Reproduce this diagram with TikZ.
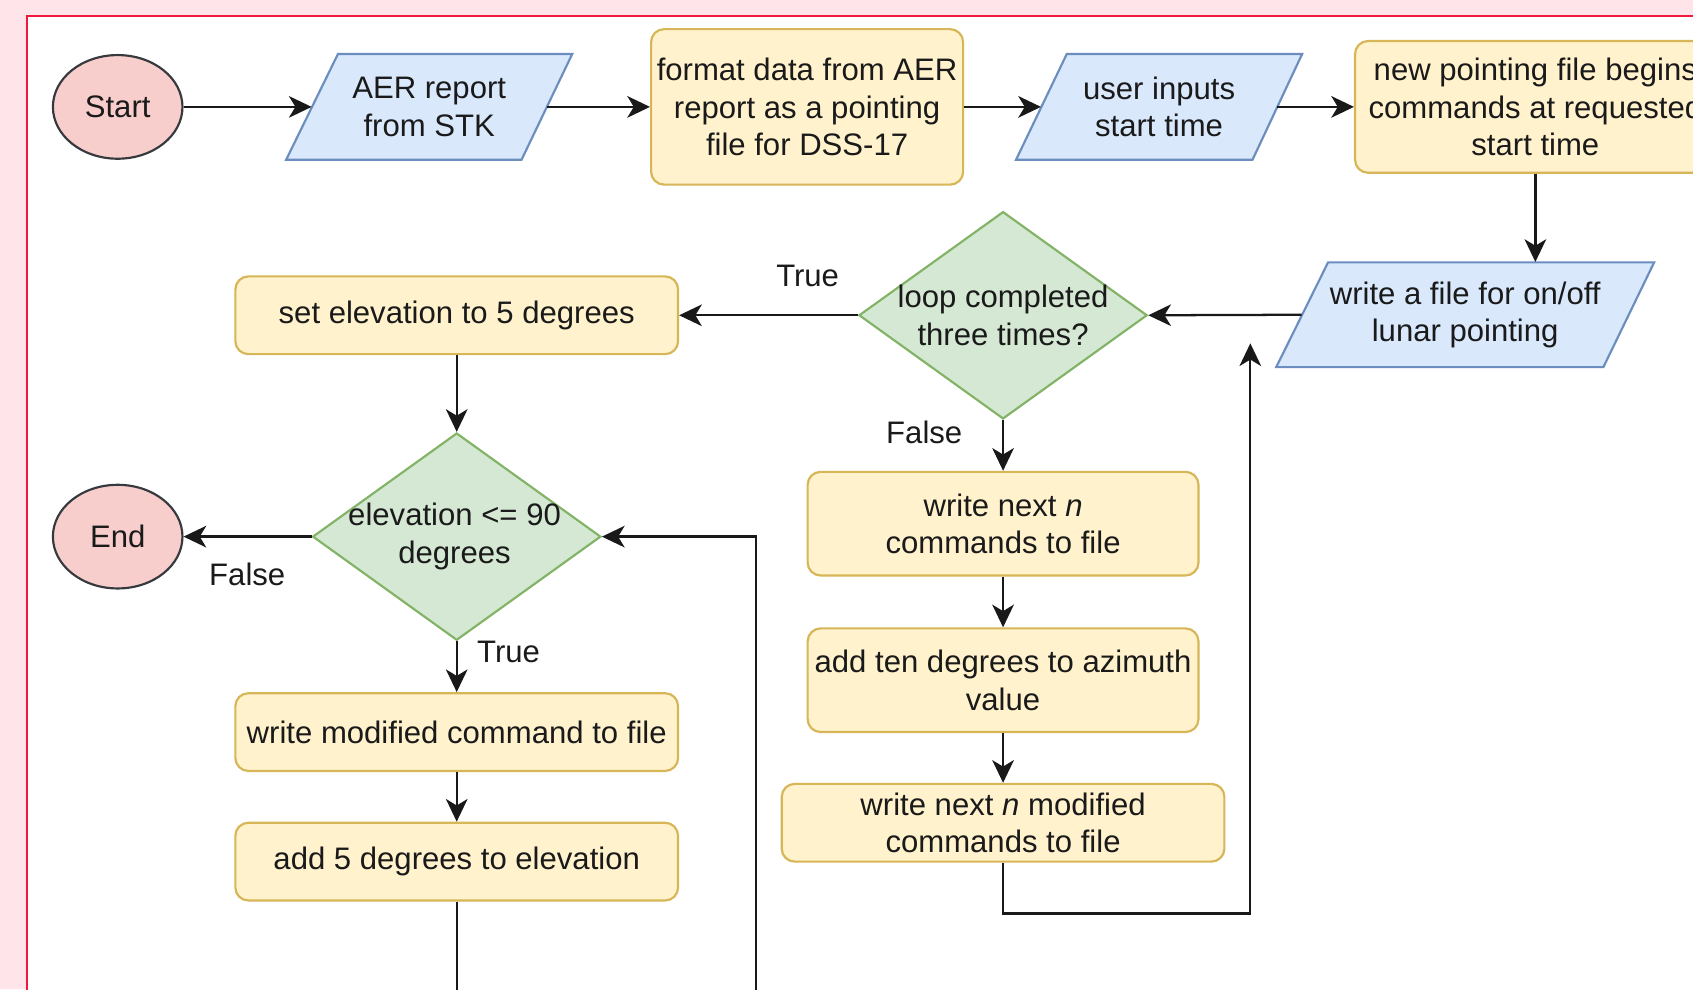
\documentclass[tikz,border=0pt]{standalone}
\usepackage{fontspec}
\setmainfont{Liberation Sans}
\usetikzlibrary{shapes.geometric,arrows.meta,calc}
\definecolor{bgpink}{HTML}{FFE4E9}
\definecolor{redline}{HTML}{F0183C}
\definecolor{yfill}{HTML}{FFF2CC}
\definecolor{ydraw}{HTML}{D6B656}
\definecolor{bfill}{HTML}{DAE8FC}
\definecolor{bdraw}{HTML}{6C8EBF}
\definecolor{gfill}{HTML}{D5E8D4}
\definecolor{gdraw}{HTML}{82B366}
\definecolor{rfill}{HTML}{F8CECC}
\definecolor{edraw}{HTML}{36393D}
\definecolor{txt}{HTML}{1A1A1A}
\begin{document}
\begin{tikzpicture}[x=0.5pt,y=-0.5pt,
  every node/.style={font=\fontsize{14.4}{17.3}\selectfont, text=txt, align=center},
  procbox/.style={rectangle, rounded corners=6pt, draw=ydraw, fill=yfill, line width=1pt, inner sep=0pt},
  iotext/.style={rectangle, inner sep=0pt, minimum height=49pt},
  iofill/.style={fill=bfill, draw=bdraw, line width=1pt, line join=miter},
  decision/.style={diamond, draw=gdraw, fill=gfill, line width=1pt, inner sep=0pt, minimum width=133.5pt, minimum height=96pt},
  terminal/.style={ellipse, draw=edraw, fill=rfill, line width=1pt, inner sep=0pt, minimum width=60pt, minimum height=48pt},
  conn/.style={draw=black!90, line width=1.05pt, -{Stealth[length=10.5pt,width=10pt,inset=3pt]}},
  lbl/.style={inner sep=0pt}
]
\useasboundingbox (0,0) rectangle (1568,916);
\clip (0,0) rectangle (1568,916);
\fill[bgpink] (0,0) rectangle (1568,916);
\draw[redline, fill=white, line width=1.1pt] (25,15) rectangle (1620,960);

% parallelograms
\path[iofill] (265,148) -- (313,50) -- (530,50) -- (483,148) -- cycle;
\path[iofill] (941,148) -- (988,50) -- (1206,50) -- (1160,148) -- cycle;
\path[iofill] (1182,340) -- (1230,243) -- (1532,243) -- (1485,340) -- cycle;

% nodes
\node[terminal] (start) at (109,99) {Start};
\node[iotext, minimum width=108.5pt] (aer) at (397.5,99) {AER report\\from STK};
\node[procbox, minimum width=144.5pt, minimum height=72pt] (fmt) at (747.5,99) {format data from AER\\report as a pointing\\file for DSS-17};
\node[iotext, minimum width=109pt] (user) at (1073.5,99) {user inputs\\start time};
\node[procbox, minimum width=167pt, minimum height=61pt] (newp) at (1422,99) {new pointing file begins\\commands at requested\\start time};
\node[iotext, minimum width=151pt, minimum height=48.5pt] (wf) at (1357,291.5) {write a file for on/off\\lunar pointing};

\node[decision] (loop) at (929,292) {};
\node[lbl] (looptxt) at (loop.center) {loop completed\\three times?};
\node[procbox, minimum width=205pt, minimum height=36pt] (setel) at (423,292) {set elevation to 5 degrees};
\node[decision] (elev) at (423,497) {};
\node[lbl] (elevtxt) at (421,497) {elevation <= 90\\degrees};
\node[terminal] (endn) at (109,497) {End};
\node[procbox, minimum width=205pt, minimum height=36pt] (wmod) at (423,678) {write modified command to file};
\node[procbox, minimum width=205pt, minimum height=36pt] (add5) at (423,798) {add 5 degrees to elevation};

\node[procbox, minimum width=181pt, minimum height=48pt] (wnext) at (929,485) {write next \textit{n}\\commands to file};
\node[procbox, minimum width=181pt, minimum height=48pt] (addten) at (929,630) {add ten degrees to azimuth\\value};
\node[procbox, minimum width=205pt, minimum height=36pt] (wnm) at (929,762) {write next \textit{n} modified\\commands to file};

\coordinate (loopA) at (700,960);
\coordinate (loopB) at (1158,846);
\coordinate (freeend) at (1158,318);

% connectors
\draw[conn] (start) -- (aer);
\draw[conn] (aer) -- (fmt);
\draw[conn] (fmt) -- (user);
\draw[conn] (user) -- (newp);
\draw[conn] (newp.south) -- (newp.south |- wf.north);
\draw[conn] (wf.west) -- (loop.east);
\draw[conn] (loop.west) -- (setel.east);
\draw[conn] (setel.south) -- (elev.north);
\draw[conn] (elev.west) -- (endn.east);
\draw[conn] (elev.south) -- (wmod.north);
\draw[conn] (wmod.south) -- (add5.north);
\draw[conn] (add5.south) |- (loopA) |- (elev.east);
\draw[conn] (loop.south) -- (wnext.north);
\draw[conn] (wnext.south) -- (addten.north);
\draw[conn] (addten.south) -- (wnm.north);
\draw[conn] (wnm.south) |- (loopB) -- (freeend);

% labels
\node[lbl] (ltrue1) at (748,256) {True};
\node[lbl] (lfalse1) at (856,400) {False};
\node[lbl] (lfalse2) at (229,532) {False};
\node[lbl] (ltrue2) at (471,604) {True};
\end{tikzpicture}
\end{document}
